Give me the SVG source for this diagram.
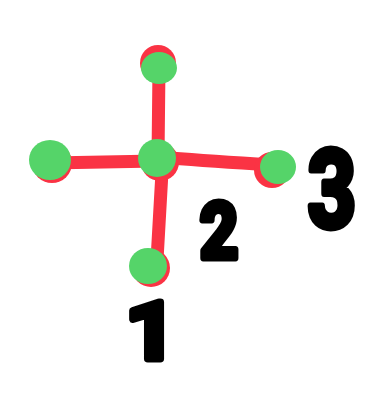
<svg xmlns="http://www.w3.org/2000/svg" width="379" height="400" viewBox="0 0 379 400">
<style>
.edge{fill:none;stroke:#fa3344;stroke-width:13;stroke-linecap:round;stroke-linejoin:round}
.under{fill:#fa3344}
.dot{fill:#55d469}
.lbl{font-family:Roboto,"Liberation Sans",Arial,sans-serif;font-weight:bold;fill:#000;stroke:#000;stroke-width:7;stroke-linejoin:round;stroke-linecap:round;text-anchor:middle}
</style>
<rect width="379" height="400" fill="#fff"/>
<g id="connectors">
<path class="edge" d="M50,163 L157,161"/>
<path class="edge" d="M159,67 L158,158"/>
<path class="edge" d="M170,158 Q210,161 272,165"/>
<path class="edge" d="M162,172 L157,260"/>
</g>
<g id="node-top">
<ellipse class="under" cx="158" cy="63" rx="18" ry="18"/>
<ellipse class="dot" cx="159" cy="68" rx="18" ry="16"/>
</g>
<g id="node-left">
<ellipse class="under" cx="52" cy="163" rx="20" ry="20"/>
<ellipse class="dot" cx="50" cy="160" rx="21" ry="20"/>
</g>
<g id="node-center">
<ellipse class="under" cx="160" cy="162" rx="19" ry="19"/>
<ellipse class="dot" cx="157" cy="158" rx="19" ry="19"/>
</g>
<g id="node-right">
<ellipse class="under" cx="272" cy="170" rx="18" ry="18"/>
<ellipse class="dot" cx="278" cy="167" rx="18" ry="17"/>
</g>
<g id="node-bottom">
<ellipse class="under" cx="151" cy="268" rx="19" ry="19"/>
<ellipse class="dot" cx="148" cy="266" rx="19" ry="18"/>
</g>
<g id="labels">
<text class="lbl" transform="translate(332,227) scale(0.78,1)" font-size="108">3</text>
<text class="lbl" transform="translate(219,258) scale(0.85,1)" font-size="78">2</text>
<text class="lbl" transform="translate(151,359) scale(1.1,1)" font-size="80">1</text>
</g>
</svg>
